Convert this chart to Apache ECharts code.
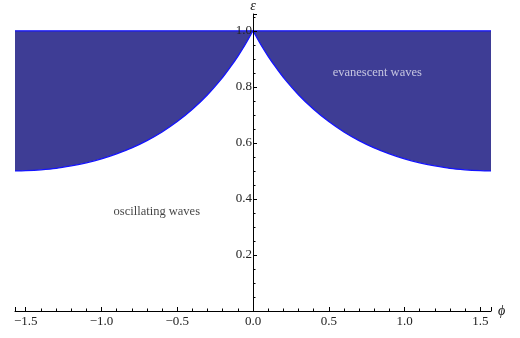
<!DOCTYPE html>
<html><head><meta charset="utf-8">
<script src="https://cdn.jsdelivr.net/npm/echarts@6/dist/echarts.min.js"></script>
<style>html,body{margin:0;padding:0;background:#fff}#c{width:520px;height:338px}</style>
</head><body><div id="c"></div>
<script>
// Right-half boundary curve (symmetric about phi = 0)
const phiRight = [0, 0.05, 0.1, 0.15, 0.2, 0.3, 0.4, 0.5, 0.6, 0.7, 0.8, 0.9, 1.0, 1.1, 1.2, 1.3, 1.4, 1.5, 1.5708];
const epsRight = [1.0, 0.952, 0.909, 0.870, 0.834, 0.772, 0.720, 0.676, 0.639, 0.608, 0.582, 0.561, 0.543, 0.529, 0.518, 0.509, 0.504, 0.501, 0.500];
const topLevel = 1.0;
const xTickLabels = [-1.5, -1.0, -0.5, 0.0, 0.5, 1.0, 1.5];
const yTickLabels = [0.2, 0.4, 0.6, 0.8, 1.0];
const annotations = [
  {phi: -0.635, eps: 0.356, text: 'oscillating waves', color: '#111'},
  {phi: 0.82, eps: 0.85, text: 'evanescent waves', color: '#e6e6f2'}
];

const halfPi = Math.PI / 2;
const leftPhi = phiRight.slice().reverse().map(p => -p);
const leftEps = epsRight.slice().reverse();
const fillColor = '#3e3d95';
const lineColor = '#1414ff';
const font = 'Liberation Serif';
const gridLeft = 15, gridRight = 29, W = 520;
// place the vertical axis at phi = 0
const yAxisOffset = -(W - gridLeft - gridRight) * (0 - (-halfPi)) / (2 * halfPi);

function fmt(v) {
  const s = v.toFixed(1);
  return v < 0 ? '\u2212' + s.slice(1) : s;
}
function isTick(v, list) { return list.some(t => Math.abs(t - v) < 1e-6); }

function halfSeries(phis, eps) {
  return {type: 'line', data: phis.map((p, i) => [p, eps[i]]), smooth: 0.3, symbol: 'none',
    lineStyle: {color: lineColor, width: 1.3},
    areaStyle: {color: fillColor, opacity: 1, origin: topLevel}, z: 3};
}

const chart = echarts.init(document.getElementById('c'), null, {renderer: 'canvas'});
chart.setOption({
  animation: false,
  grid: {left: gridLeft, right: gridRight, top: 14, bottom: 27, containLabel: false, outerBoundsMode: 'none'},
  xAxis: {
    type: 'value', min: -halfPi, max: halfPi, z: 10,
    name: 'ϕ', nameLocation: 'end', nameGap: 7,
    nameTextStyle: {fontFamily: font, fontStyle: 'italic', fontSize: 14, color: '#111', verticalAlign: 'middle', padding: [4, 0, 0, 0]},
    axisLine: {onZero: true, lineStyle: {color: '#000', width: 1}},
    axisTick: {inside: true, length: 4, lineStyle: {color: '#000'}},
    minorTick: {show: true, splitNumber: 5, length: 2.5, lineStyle: {color: '#000'}},
    splitLine: {show: false},
    axisLabel: {showMinLabel: false, showMaxLabel: false, fontFamily: font, fontSize: 13, color: '#222', margin: 4,
      formatter: v => isTick(v, xTickLabels) ? fmt(v) : ''}
  },
  yAxis: {
    type: 'value', min: 0, max: 1.06, interval: 0.2, z: 10,
    position: 'left', offset: yAxisOffset,
    name: 'ε', nameLocation: 'end', nameGap: 1,
    nameTextStyle: {fontFamily: font, fontStyle: 'italic', fontSize: 14, color: '#111', align: 'center'},
    axisLine: {onZero: false, lineStyle: {color: '#000', width: 1}},
    axisTick: {inside: true, length: 4, lineStyle: {color: '#000'}},
    minorTick: {show: true, splitNumber: 4, length: 2.5, lineStyle: {color: '#000'}},
    splitLine: {show: false},
    axisLabel: {showMaxLabel: false, fontFamily: font, fontSize: 13, color: '#222', margin: 1,
      formatter: v => isTick(v, yTickLabels) ? v.toFixed(1) : ''}
  },
  series: [
    halfSeries(leftPhi, leftEps),
    halfSeries(phiRight, epsRight),
    {type: 'line', data: [[-halfPi, topLevel], [halfPi, topLevel]], symbol: 'none',
     lineStyle: {color: lineColor, width: 1.2}, z: 4},
    {type: 'scatter', symbolSize: 0, z: 5, silent: true,
     data: annotations.map(a => ({value: [a.phi, a.eps], label: {color: a.color}, name: a.text})),
     label: {show: true, position: 'inside', formatter: p => p.name, fontFamily: font, fontSize: 12.5}}
  ]
});
</script></body></html>
